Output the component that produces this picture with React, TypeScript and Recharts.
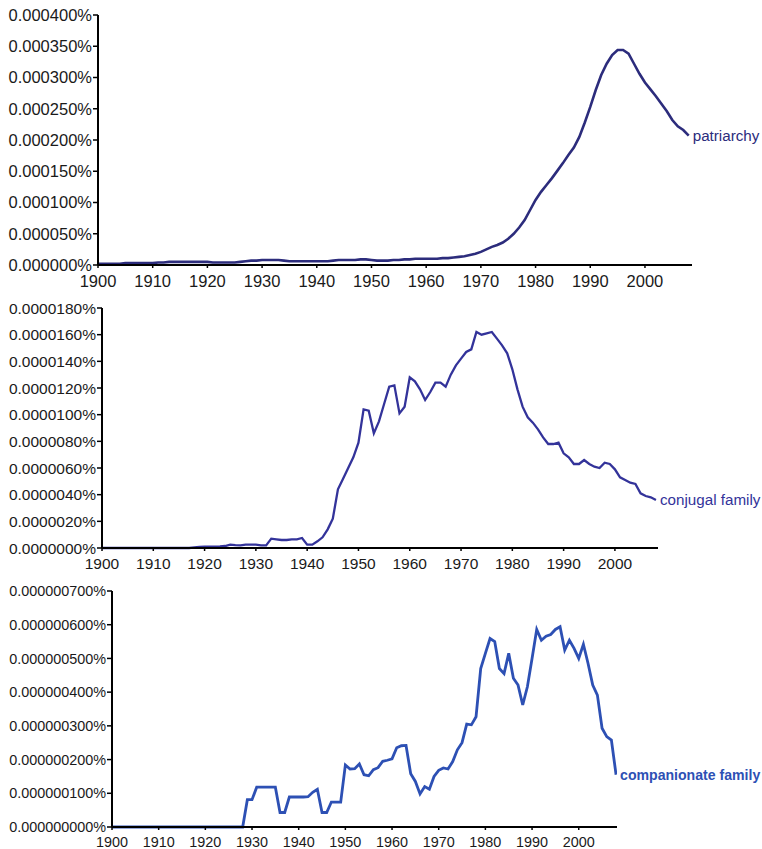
import React from 'react';
import { LineChart, Line, XAxis, YAxis } from 'recharts';

const FIRST_YEAR = 1900;
const DECADE_TICKS = [1900, 1910, 1920, 1930, 1940, 1950, 1960, 1970, 1980, 1990, 2000];

// patriarchy, 1900..2008
const patriarchyValues = [
  0.000002, 0.000002, 0.000002, 0.000002, 0.000002, 0.000003, 0.000003, 0.000003, 0.000003, 0.000003,
  0.000003, 0.000004, 0.000004, 0.000005, 0.000005, 0.000005, 0.000005, 0.000005, 0.000005, 0.000005,
  0.000005, 0.000004, 0.000004, 0.000004, 0.000004, 0.000004, 0.000005, 0.000006, 0.000007, 0.000007,
  0.000008, 0.000008, 0.000008, 0.000008, 0.000007, 0.000006, 0.000006, 0.000006, 0.000006, 0.000006,
  0.000006, 0.000006, 0.000006, 0.000007, 0.000008, 0.000008, 0.000008, 0.000008, 0.000009, 0.000009,
  0.000008, 0.000007, 0.000007, 0.000007, 0.000008, 0.000008, 0.000009, 0.000009, 0.00001, 0.00001,
  0.00001, 0.00001, 0.00001, 0.000011, 0.000011, 0.000012, 0.000013, 0.000014, 0.000016, 0.000018,
  0.000021, 0.000025, 0.000029, 0.000032, 0.000036, 0.000042, 0.00005, 0.00006, 0.000072, 0.000088,
  0.000104, 0.000117, 0.000128, 0.000139, 0.000151, 0.000163, 0.000176, 0.000188, 0.000205, 0.000228,
  0.000253, 0.00028, 0.000304, 0.000322, 0.000336, 0.000344, 0.000344, 0.000338, 0.000322, 0.000306,
  0.000292, 0.000281, 0.00027, 0.000258, 0.000246, 0.000232, 0.000222, 0.000216, 0.000207,
];
const patriarchyTicks = [0, 0.00005, 0.0001, 0.00015, 0.0002, 0.00025, 0.0003, 0.00035, 0.0004];

// conjugal family, 1900..2008
const conjugalValues = [
  0, 0, 0, 0, 0, 0, 0, 0, 0, 0,
  0, 0, 0, 0, 0, 0, 0, 0, 0.00000005, 0.00000008,
  0.0000001, 0.0000001, 0.0000001, 0.00000012, 0.00000015, 0.00000025, 0.00000022, 0.0000002, 0.00000025, 0.00000025,
  0.00000025, 0.0000002, 0.0000002, 0.0000007, 0.00000065, 0.0000006, 0.0000006, 0.00000065, 0.00000065, 0.00000075,
  0.00000025, 0.00000025, 0.0000005, 0.0000008, 0.0000014, 0.0000022, 0.0000044, 0.0000052, 0.000006, 0.0000068,
  0.0000079, 0.0000104, 0.0000103, 0.0000086, 0.0000095, 0.0000108, 0.0000121, 0.0000122, 0.0000101, 0.0000106,
  0.0000128, 0.0000125, 0.0000119, 0.0000111, 0.0000117, 0.0000124, 0.0000124, 0.0000121, 0.000013, 0.0000137,
  0.0000142, 0.0000147, 0.0000149, 0.0000162, 0.000016, 0.0000161, 0.0000162, 0.0000157, 0.0000152, 0.0000146,
  0.0000134, 0.0000119, 0.0000106, 0.0000098, 0.0000094, 0.0000089, 0.0000083, 0.0000078, 0.0000078, 0.0000079,
  0.0000071, 0.0000068, 0.0000063, 0.0000063, 0.0000066, 0.0000063, 0.0000061, 0.000006, 0.0000064, 0.0000063,
  0.0000059, 0.0000053, 0.0000051, 0.0000049, 0.0000048, 0.0000041, 0.0000039, 0.0000038, 0.0000036,
];
const conjugalTicks = [0, 0.000002, 0.000004, 0.000006, 0.000008, 0.00001, 0.000012, 0.000014, 0.000016, 0.000018];

// companionate family, 1900..2008
const companionateValues = [
  0, 0, 0, 0, 0, 0, 0, 0, 0, 0,
  0, 0, 0, 0, 0, 0, 0, 0, 0, 0,
  0, 0, 0, 0, 0, 0, 0, 0, 0, 0.000000081,
  0.000000081, 0.000000118, 0.000000118, 0.000000118, 0.000000118, 0.000000118, 0.000000043, 0.000000043, 0.000000089, 0.000000089,
  0.000000089, 0.000000089, 0.00000009, 0.000000103, 0.000000112, 0.000000043, 0.000000043, 0.000000074, 0.000000074, 0.000000074,
  0.000000184, 0.000000172, 0.000000173, 0.000000187, 0.000000155, 0.000000152, 0.00000017, 0.000000176, 0.000000195, 0.000000198,
  0.000000202, 0.000000235, 0.000000241, 0.000000242, 0.000000158, 0.000000135, 0.000000098, 0.00000012, 0.000000112, 0.00000015,
  0.000000168, 0.000000175, 0.000000172, 0.000000194, 0.000000229, 0.00000025, 0.000000305, 0.000000303, 0.000000327, 0.00000047,
  0.000000515, 0.000000559, 0.00000055, 0.00000047, 0.000000455, 0.000000515, 0.000000441, 0.000000421, 0.000000362, 0.000000416,
  0.0000005, 0.000000586, 0.000000554, 0.000000566, 0.000000571, 0.000000586, 0.000000594, 0.000000525, 0.000000554, 0.00000053,
  0.0000005, 0.000000542, 0.000000485, 0.000000421, 0.000000391, 0.000000293, 0.000000268, 0.000000258, 0.000000155,
];
const companionateTicks = [0, 0.0000001, 0.0000002, 0.0000003, 0.0000004, 0.0000005, 0.0000006, 0.0000007];

const toRows = (values: number[]) => values.map((v, i) => ({ year: FIRST_YEAR + i, value: v }));

const FONT = '"Liberation Sans", Arial, sans-serif';

type PanelProps = {
  top: number;
  height: number;
  marginTop: number;
  axisLeft: number;
  marginRight: number;
  xMax: number;
  values: number[];
  yTicks: number[];
  decimals: number;
  fontSize: number;
  color: string;
  strokeWidth: number;
  label: string;
  labelSize: number;
  labelWeight?: string;
};

function Panel(p: PanelProps) {
  const data = toRows(p.values);
  const last = data.length - 1;
  const endLabel = (props: any) => {
    if (props.index !== last) return null;
    return (
      <text
        x={props.x + 4}
        y={props.y}
        dy={5}
        fill={p.color}
        fontSize={p.labelSize}
        fontWeight={p.labelWeight || 'normal'}
        fontFamily={FONT}
      >
        {p.label}
      </text>
    );
  };
  return (
    <div style={{ position: 'absolute', left: 0, top: p.top }}>
      <LineChart
        width={762}
        height={p.height}
        data={data}
        margin={{ top: p.marginTop, right: p.marginRight, bottom: 0, left: 0 }}
      >
        <XAxis
          dataKey="year"
          type="number"
          domain={[FIRST_YEAR, p.xMax]}
          ticks={DECADE_TICKS}
          height={28}
          tickSize={3}
          tickMargin={7}
          axisLine={{ stroke: '#000', strokeWidth: 2 }}
          tickLine={{ stroke: '#000', strokeWidth: 1.5 }}
          tick={{ fill: '#1a1a1a', fontSize: p.fontSize, fontFamily: FONT }}
          allowDataOverflow
        />
        <YAxis
          type="number"
          width={p.axisLeft}
          domain={[0, p.yTicks[p.yTicks.length - 1]]}
          ticks={p.yTicks}
          tickSize={5}
          tickMargin={1}
          interval={0}
          axisLine={{ stroke: '#000', strokeWidth: 2 }}
          tickLine={{ stroke: '#000', strokeWidth: 1.5 }}
          tick={{ fill: '#1a1a1a', fontSize: p.fontSize, fontFamily: FONT }}
          tickFormatter={(v: number) => v.toFixed(p.decimals) + '%'}
        />
        <Line
          type="linear"
          dataKey="value"
          stroke={p.color}
          strokeWidth={p.strokeWidth}
          dot={false}
          isAnimationActive={false}
          label={endLabel}
        />
      </LineChart>
    </div>
  );
}

export default function App() {
  return (
    <div style={{ position: 'absolute', left: 0, top: 0, width: 762, height: 849, background: '#fff', overflow: 'hidden' }}>
      <Panel
        top={0}
        height={293}
        marginTop={15}
        axisLeft={98}
        marginRight={70}
        xMax={2008.6}
        values={patriarchyValues}
        yTicks={patriarchyTicks}
        decimals={6}
        fontSize={16.5}
        color="#2c2c7c"
        strokeWidth={2.6}
        label="patriarchy"
        labelSize={15.2}
      />
      <Panel
        top={290}
        height={286}
        marginTop={18}
        axisLeft={102}
        marginRight={104}
        xMax={2008.4}
        values={conjugalValues}
        yTicks={conjugalTicks}
        decimals={7}
        fontSize={15.5}
        color="#33339a"
        strokeWidth={2.3}
        label="conjugal family"
        labelSize={15.2}
      />
      <Panel
        top={570}
        height={285}
        marginTop={21}
        axisLeft={112}
        marginRight={145}
        xMax={2008.2}
        values={companionateValues}
        yTicks={companionateTicks}
        decimals={9}
        fontSize={14.4}
        color="#2d50b4"
        strokeWidth={2.8}
        label="companionate family"
        labelSize={14.1}
        labelWeight="bold"
      />
    </div>
  );
}
